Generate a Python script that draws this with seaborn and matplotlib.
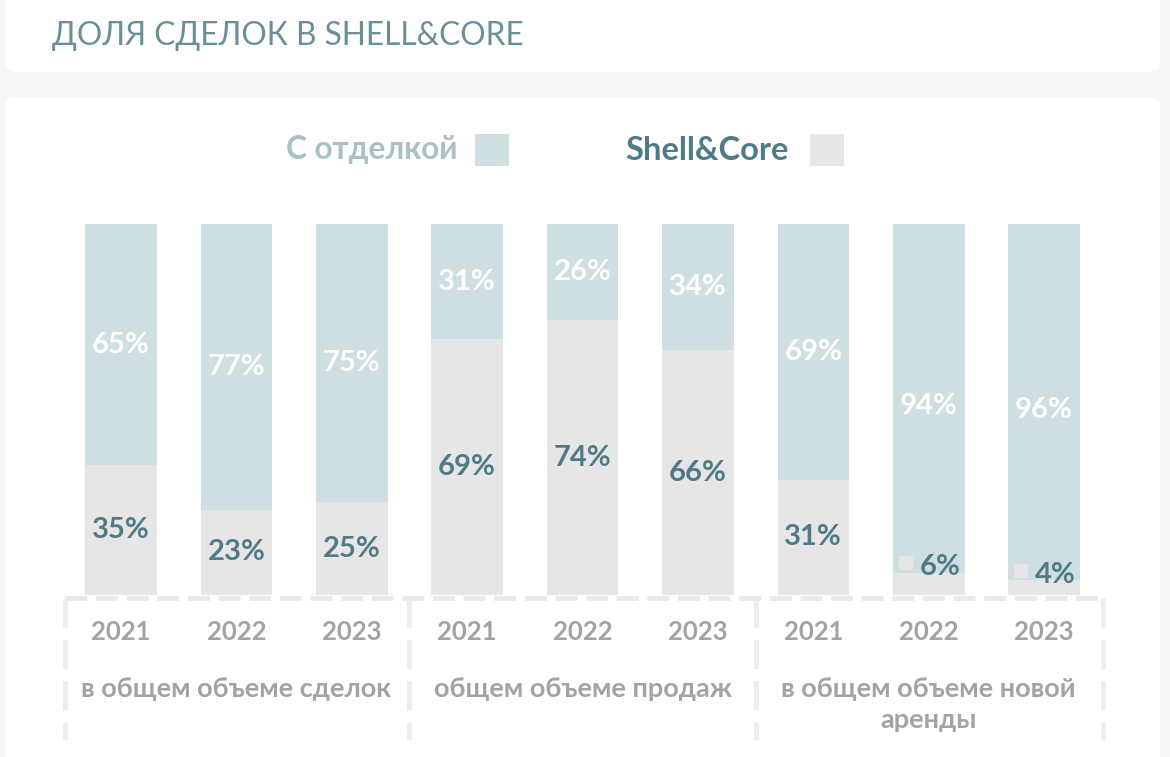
import pandas as pd
import matplotlib
matplotlib.use("Agg")
import matplotlib.pyplot as plt
from matplotlib.patches import FancyBboxPatch, Rectangle
import seaborn as sns

# data
years = ['2021', '2022', '2023'] * 3
groups = ['в общем объеме сделок', 'общем объеме продаж', 'в общем объеме новой\nаренды']
finish = [65, 77, 75, 31, 26, 34, 69, 94, 96]   # С отделкой
shell = [35, 23, 25, 69, 74, 66, 31, 6, 4]      # Shell&Core

c_finish = '#cfdee0'
c_shell = '#e6e6e6'
c_dark = '#4f7b86'
c_gray = '#a3a3a3'

sns.set_style('white')
plt.rcParams['font.family'] = ['Lato', 'DejaVu Sans']

W, H = 1170, 757
fig = plt.figure(figsize=(W / 100, H / 100), dpi=100)
fig.patch.set_facecolor('#f6f6f6')


def px_box(x0, y0, x1, y1):
    # pixel box (top-left origin) -> figure fraction
    return x0 / W, 1 - y1 / H, (x1 - x0) / W, (y1 - y0) / H


for (x0, y0, x1, y1) in [(5, -20, 1160, 72), (5, 97, 1160, 790)]:
    l, b, w, h = px_box(x0, y0, x1, y1)
    fig.patches.append(FancyBboxPatch((l, b), w, h, boxstyle='round,pad=0,rounding_size=0.012',
                                      transform=fig.transFigure, facecolor='white',
                                      edgecolor='none', zorder=-5))

fig.text(52 / W, 1 - 36 / H, 'ДОЛЯ СДЕЛОК В SHELL&CORE', fontsize=22.8, fontweight='normal',
         color='#6a8f98', va='center', ha='left')

# legend
fig.text(458 / W, 1 - 150 / H, 'С отделкой', fontsize=22.7, fontweight='bold',
         color='#a9c0c5', va='center', ha='right')
fig.text(789 / W, 1 - 150 / H, 'Shell&Core', fontsize=23.5, fontweight='bold',
         color=c_dark, va='center', ha='right')
for x0, col in [(475, c_finish), (810, c_shell)]:
    l, b, w, h = px_box(x0, 134, x0 + 34, 166)
    fig.patches.append(Rectangle((l, b), w, h, transform=fig.transFigure,
                                 facecolor=col, edgecolor='none'))

# bars axes: y=0 at 595px, y=100 at 224px
unit = (595 - 224) / 100
ybot = -(745 - 595) / unit
l, b, w, h = px_box(65, 224, 1103, 745)
ax = fig.add_axes([l, b, w, h])
ax.set_facecolor('none')

df = pd.DataFrame({'pos': range(9), 'year': years, 'finish': finish, 'shell': shell})
df['total'] = df['finish'] + df['shell']

sns.barplot(data=df, x='pos', y='total', color=c_finish, width=0.62, saturation=1,
            linewidth=0, ax=ax, zorder=2)
sns.barplot(data=df, x='pos', y='shell', color=c_shell, width=0.62, saturation=1,
            linewidth=0, ax=ax, zorder=3)

ax.set_xlim(-0.485, 8.51)
ax.set_ylim(ybot, 100)
ax.axis('off')

fs = 21
for i, row in df.iterrows():
    if row['shell'] >= 10:
        ax.text(i, row['shell'] + row['finish'] / 2, f"{row['finish']}%", ha='center', va='center',
                fontsize=fs, fontweight='bold', color='white', zorder=5)
        ax.text(i, row['shell'] / 2, f"{row['shell']}%", ha='center', va='center',
                fontsize=fs, fontweight='bold', color=c_dark, zorder=5)
    else:
        ax.text(i, row['shell'] + row['finish'] / 2 - 2, f"{row['finish']}%", ha='center',
                va='center', fontsize=fs, fontweight='bold', color='white', zorder=5)
        ax.scatter(i - 0.2, row['shell'] + 2.5, marker='s', s=110, color=c_shell,
                   zorder=5, linewidths=0)
        ax.text(i + 0.1, row['shell'] + 1.5, f"{row['shell']}%", ha='center', va='center',
                fontsize=fs, fontweight='bold', color=c_dark, zorder=5)

# dashed frame under the bars
line_y = -0.8
ax.plot([-0.485, 8.51], [line_y, line_y], color='#e9e9e9', lw=3.5, ls=(0, (4.5, 1.8)),
        zorder=4, clip_on=False)
for xv in [-0.485, 2.5, 5.5, 8.51]:
    ax.plot([xv, xv], [line_y, -39], color='#ededed', lw=3.5, ls=(0, (6, 2.5)),
            zorder=1, clip_on=False)

for i, yr in enumerate(years):
    ax.text(i, -10, yr, ha='center', va='center', fontsize=18.5, fontweight='bold', color=c_gray)

line_step = 31 / unit
for g, name in enumerate(groups):
    for k, part in enumerate(name.split('\n')):
        ax.text(3 * g + 1, -25.3 - k * line_step, part, ha='center', va='center',
                fontsize=19.5, fontweight='bold', color=c_gray)

fig.savefig('out.png', dpi=100, facecolor=fig.get_facecolor())
